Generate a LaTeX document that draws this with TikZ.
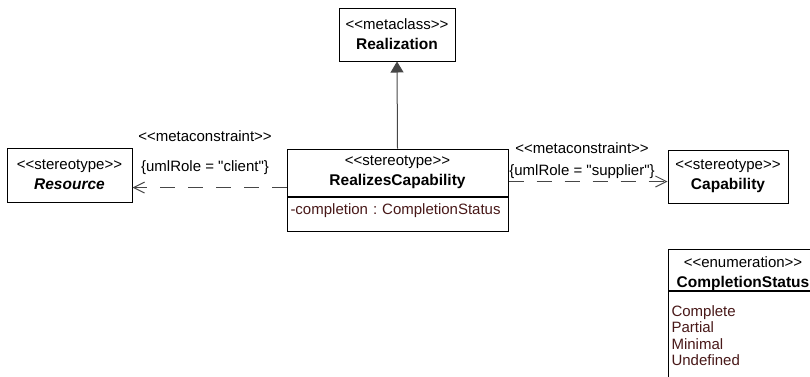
\documentclass[tikz,border=0pt]{standalone}
\usepackage{fontspec}
\setmainfont{Liberation Sans}[Ligatures=TeXOff]
\usetikzlibrary{arrows.meta,positioning}

\definecolor{attrcol}{RGB}{72,24,24}
\definecolor{linegray}{RGB}{70,70,70}

\newcommand{\stereo}[1]{<\kern0pt<#1>\kern0pt>}
\frenchspacing

\begin{document}
\begin{tikzpicture}[x=1pt,y=-1pt,>=latex,
  hdr/.style={rectangle, draw, line width=1pt, inner sep=0pt, align=center,
    font=\fontsize{15}{20}\selectfont},
  comp/.style={rectangle, draw, line width=1pt, inner xsep=3.5pt, align=left,
    font=\fontsize{15}{16.5}\selectfont\color{attrcol}},
  lbl/.style={inner sep=0pt, anchor=base, font=\fontsize{15}{18}\selectfont},
  gen/.style={draw=linegray, line width=1pt, -{Triangle[length=11pt,width=13pt]}},
  dep/.style={draw=linegray, line width=1pt, dash pattern=on 15pt off 13pt,
    -{Straight Barb[length=11pt,width=11pt]}}]

\clip (0,0) rectangle (810,376);

\node (real) [hdr, minimum width=116pt, minimum height=53pt] at (397,34.5)
{\stereo{metaclass}\\\fontsize{15.5}{20}\selectfont\bfseries Realization};

\node (rch) [hdr, minimum width=221pt, minimum height=47pt] at (397.5,172.5)
{\stereo{stereotype}\\\fontsize{15.5}{20}\selectfont\bfseries RealizesCapability};

\node (rca) [comp, below=0pt of rch, text width=214pt, inner ysep=6pt,
  text height=11pt, text depth=11pt]
{-completion : CompletionStatus};

\node (res) [hdr, minimum width=125pt, minimum height=54pt] at (69.5,175)
{\stereo{stereotype}\\\fontsize{15.5}{20}\selectfont\bfseries\itshape Resource};

\node (cap) [hdr, minimum width=120pt, minimum height=53pt] at (728,176.5)
{\stereo{stereotype}\\\fontsize{15.5}{20}\selectfont\bfseries Capability};

\node (csh) [hdr, minimum width=150pt, minimum height=41pt, text height=36pt,
  text depth=0pt] at (743,269.5)
{\stereo{enumeration}\\\fontsize{15.5}{20}\selectfont\bfseries CompletionStatus};

\node (csl) [comp, below=0pt of csh, text width=143pt, inner ysep=14pt,
  text height=11pt]
{Complete\\Partial\\Minimal\\Undefined};

% connectors
\draw[gen] (rch.north) -- (real.south);
\draw[dep] ([yshift=-15pt]rch.west) -- ([yshift=-15pt]rch.west -| res.east);
\draw[dep] ([yshift=-9pt]rch.east) -- ([yshift=-9pt]rch.east -| cap.west);

% labels
\node (mcl) [lbl] at (205,141) {\stereo{metaconstraint}};
\node (rol) [lbl] at (205,171) {\{umlRole = "client"\}};
\node (mcr) [lbl] at (582,153) {\stereo{metaconstraint}};
\node (ror) [lbl] at (582,175) {\{umlRole = "supplier"\}};

\end{tikzpicture}
\end{document}
